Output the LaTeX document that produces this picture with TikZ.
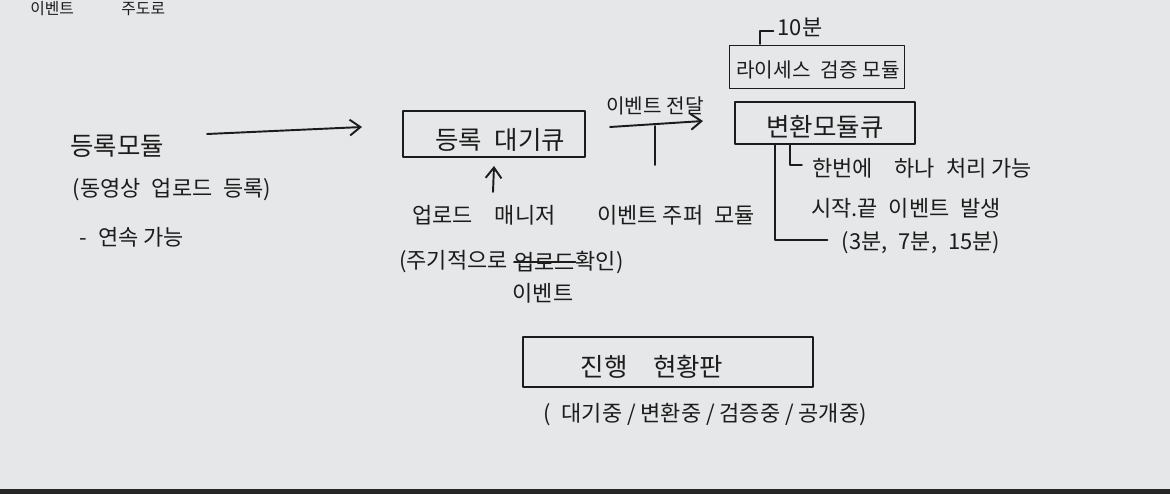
\documentclass[tikz,border=0pt]{standalone}
\usepackage{fontspec}
\setmainfont{Noto Sans CJK KR}
\usetikzlibrary{arrows.meta}
\definecolor{paper}{HTML}{E6E7E8}
\definecolor{ink}{HTML}{1C1C1C}
\tikzset{
  pen/.style={draw=ink, line width=1.1pt, line cap=round, line join=round},
  arr/.style={pen, -{Straight Barb[length=6pt,width=9pt,line width=1.1pt]}},
  txt/.style={text=ink, inner sep=0pt, font=\fontsize{12.5pt}{14pt}\selectfont},
  big/.style={txt, font=\fontsize{14.5pt}{16pt}\selectfont},
  small/.style={txt, font=\fontsize{9pt}{10pt}\selectfont},
  boxx/.style={pen, inner sep=0pt},
}
\begin{document}
\begin{tikzpicture}[x=0.02cm,y=-0.02cm]
\useasboundingbox (0,0) rectangle (1170,494);
\fill[paper] (0,0) rectangle (1170,494);
\fill[black!85] (0,489) rectangle (1170,494);
\node[small, anchor=north west] (top) at (30,1) {이벤트\hspace{3em}주도로};
% left module
\node[big] (mod) at (117,146) {등록모듈};
\node[txt] (modnote) at (172,190) {(동영상\enspace 업로드\enspace 등록)};
\node[txt] (modcont) at (132,237) {-\enspace 연속 가능};
\coordinate (a1s) at (207,134);
\coordinate (a1e) at (362,127);
\draw[arr] (a1s) -- (a1e);
% registration queue
\node[boxx, minimum width=182*0.02cm, minimum height=46*0.02cm] (q1) at (494,134) {};
\node[big] (q1t) at (500,140) {등록\enspace 대기큐};
% upload manager
\node[txt] (upm) at (484,215) {업로드\quad 매니저};
\coordinate (u1s) at (493,192);
\draw[arr] (u1s) -- ([yshift=-8*0.02cm]q1.south);
\node[txt, anchor=east] (upmn1) at (508,262) {(주기적으로};
\node[txt, anchor=west] (upmn2) at (514,262) {업로드};
\node[txt, anchor=west] (upmn3) at (upmn2.east) {확인)};
\draw[pen] (upmn2.west) -- (upmn2.east);
\node[txt] (upmev) at (543,293) {이벤트};
% event publish module
\node[txt] (evm) at (676,215) {이벤트 주퍼\enspace 모듈};
\coordinate (e1s) at (610,127);
\coordinate (e1e) at (703,121);
\draw[arr] (e1s) -- (e1e);
\node[txt, font=\fontsize{11.5pt}{13pt}\selectfont] (elab) at (655,106) {이벤트 전달};
\coordinate (e1m) at (655,126);
\draw[pen] (e1m) -- (e1m |- 0,165);
% license module
\node[boxx, minimum width=175*0.02cm, minimum height=43*0.02cm] (lic) at (817,67) {};
\node[txt, font=\fontsize{11.5pt}{13pt}\selectfont] (lict) at (818,70) {라이세스\enspace 검증 모듈};
\node[txt] (ten) at (800,27) {10분};
\draw[pen] (760,44) -- (760,31) -- ([xshift=-4*0.02cm]ten.west |- 0,31);
% conversion queue
\node[boxx, minimum width=180*0.02cm, minimum height=42*0.02cm] (conv) at (825,123) {};
\node[big] (convt) at (825,127) {변환모듈큐};
\node[txt] (n1) at (922,168) {한번에\quad 하나\enspace 처리 가능};
\node[txt] (n2) at (906,208) {시작.끝\enspace 이벤트\enspace 발생};
\node[txt] (n3) at (921,243) {(3분,\enspace 7분,\enspace 15분)};
\draw[pen] (conv.south -| 775,0) -- (775,240) -- ([xshift=-14*0.02cm]n3.west |- 0,240);
\draw[pen] (conv.south -| 790,0) -- (790,165) -- ([xshift=-10*0.02cm]n1.west |- 0,165);
% progress board
\node[boxx, minimum width=290*0.02cm, minimum height=50*0.02cm] (board) at (668,362) {};
\node[big] (boardt) at (652,367) {진행\enspace\enspace 현황판};
\node[txt] (boardn) at (705,415) {(\enspace 대기중 / 변환중 / 검증중 / 공개중)};
\end{tikzpicture}
\end{document}
